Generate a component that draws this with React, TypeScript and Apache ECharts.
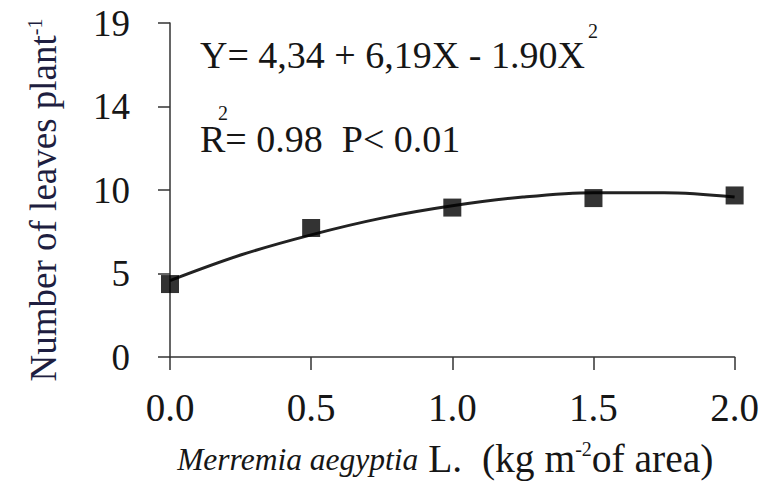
import React, { useEffect, useRef } from "react";
import * as echarts from "echarts";

// Observed means (squares)
const doseX = [0, 0.5, 1.0, 1.5, 2.0];
const leavesY = [4.15, 7.34, 8.5, 9.04, 9.19];

// Fitted curve
const curveX = [0, 0.25, 0.5, 0.75, 1.0, 1.25, 1.5, 1.75, 2.0];
const curveY = [4.35, 5.8, 6.95, 7.9, 8.6, 9.1, 9.35, 9.35, 9.1];

const xTickLabels = ["0.0", "0.5", "1.0", "1.5", "2.0"];
const yTickLabels = ["0", "5", "10", "14", "19"];

const FONT = "Liberation Serif, Times New Roman, serif";
const INK = "#161616";
const NAVY = "#1e1e40";

export default function App() {
  const ref = useRef<HTMLDivElement>(null);
  useEffect(() => {
    document.body.style.margin = "0";
    if (!ref.current) return;
    const chart = echarts.init(ref.current, undefined, { renderer: "svg" });
    const yMax = 19;
    const yStep = yMax / (yTickLabels.length - 1);
    chart.setOption({
      animation: false,
      backgroundColor: "#ffffff",
      textStyle: { fontFamily: FONT },
      grid: { left: 170, right: 27, top: 23, bottom: 128, containLabel: false },
      xAxis: {
        type: "value",
        min: 0,
        max: 2,
        interval: 0.5,
        axisLine: { show: true, lineStyle: { color: "#333", width: 1.5 } },
        axisTick: { show: true, length: 13, lineStyle: { color: "#333", width: 1.5 } },
        splitLine: { show: false },
        axisLabel: {
          margin: 31,
          color: INK,
          fontFamily: FONT,
          fontSize: 39,
          formatter: (v: number) => {
            const i = Math.round(v / 0.5);
            return xTickLabels[i] ?? "";
          },
        },
        name: "{i|Merremia aegyptia} L.  (kg m{sup|-2}of area)",
        nameLocation: "middle",
        nameGap: 82,
        nameTextStyle: {
          color: INK,
          fontFamily: FONT,
          fontSize: 39.5,
          padding: [0, 14, 0, 0],
          rich: {
            i: { fontFamily: FONT, fontStyle: "italic", fontSize: 31.5, color: INK },
            sup: { fontFamily: FONT, fontSize: 20, color: INK, verticalAlign: "top" },
          },
        },
      },
      yAxis: {
        type: "value",
        min: 0,
        max: yMax,
        interval: yStep,
        axisLine: { show: true, lineStyle: { color: "#333", width: 1.5 } },
        axisTick: { show: true, length: 12, lineStyle: { color: "#333", width: 1.5 } },
        splitLine: { show: false },
        axisLabel: {
          margin: 40,
          color: INK,
          fontFamily: FONT,
          fontSize: 37,
          formatter: (v: number) => {
            const i = Math.round(v / yStep);
            return yTickLabels[i] ?? "";
          },
        },
        name: "Number of leaves plant{sup|-1}",
        nameLocation: "middle",
        nameRotate: 90,
        nameGap: 108,
        nameTextStyle: {
          color: NAVY,
          fontFamily: FONT,
          fontSize: 37,
          padding: [0, 20, 0, 0],
          rich: {
            sup: { fontFamily: FONT, fontSize: 20, color: NAVY, verticalAlign: "top" },
          },
        },
      },
      series: [
        {
          type: "line",
          data: curveX.map((x, i) => [x, curveY[i]]),
          smooth: 0.35,
          showSymbol: false,
          lineStyle: { color: "#222", width: 3 },
          z: 2,
        },
        {
          type: "scatter",
          data: doseX.map((x, i) => [x, leavesY[i]]),
          symbol: "rect",
          symbolSize: 18,
          itemStyle: { color: "#000" },
          z: 3,
        },
      ],
      graphic: [
        {
          type: "text",
          x: 200,
          y: 55,
          style: {
            text: "Y= 4,34 + 6,19X - 1.90X",
            fontFamily: FONT,
            fontSize: 38,
            fill: INK,
            verticalAlign: "middle",
          },
        },
        {
          type: "text",
          x: 588,
          y: 31,
          style: {
            text: "2",
            fontFamily: FONT,
            fontSize: 20,
            fill: INK,
            verticalAlign: "middle",
          },
        },
        {
          type: "text",
          x: 200,
          y: 139,
          style: {
            text: "R= 0.98  P< 0.01",
            fontFamily: FONT,
            fontSize: 38,
            fill: INK,
            verticalAlign: "middle",
          },
        },
        {
          type: "text",
          x: 218,
          y: 113,
          style: {
            text: "2",
            fontFamily: FONT,
            fontSize: 20,
            fill: INK,
            verticalAlign: "middle",
          },
        },
      ],
    });
    return () => chart.dispose();
  }, []);
  return <div ref={ref} style={{ width: 762, height: 485 }} />;
}
